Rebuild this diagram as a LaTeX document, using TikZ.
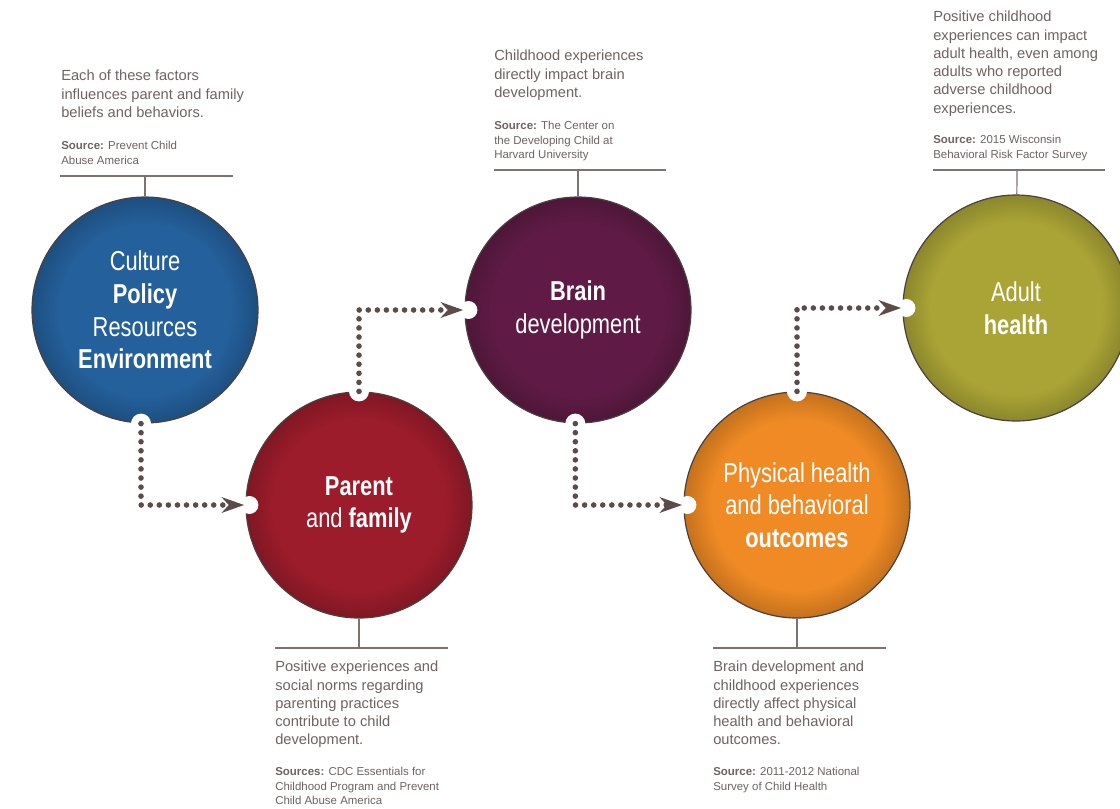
\documentclass[tikz,border=0pt]{standalone}
\usepackage{fontspec}
\setmainfont{Liberation Sans}
\newfontfamily\condfont[FakeStretch=0.8]{Liberation Sans}
\usetikzlibrary{arrows.meta}

\definecolor{cultblue}{HTML}{24609B}
\definecolor{parentred}{HTML}{9C1C2B}
\definecolor{brainplum}{HTML}{5F1B45}
\definecolor{healthorange}{HTML}{EF8A24}
\definecolor{adultolive}{HTML}{AAA436}
\definecolor{rimgrey}{HTML}{4A4040}
\definecolor{dotbrown}{HTML}{5B4C4A}
\definecolor{notegrey}{HTML}{6E6462}
\definecolor{leadgrey}{HTML}{7D7270}

\colorlet{ballc}{cultblue}
\pgfdeclareradialshading[ballc]{ball}{\pgfpoint{0bp}{0bp}}{color(0bp)=(ballc);color(19bp)=(ballc);color(25bp)=(ballc!82!black);color(50bp)=(ballc!82!black)}

\tikzset{
	ballcol/.code={\colorlet{ballc}{#1}},
	ball/.style={circle, minimum size=169.5pt, inner sep=0pt, draw=rimgrey, line width=0.9pt, ballcol=#1, shade, shading=ball, text=white, align=center, font=\condfont\fontsize{20.5}{24.5}\selectfont},
	notch/.style={fill=white},
	dotline/.style={draw=dotbrown, line width=4.2pt, line cap=round, dash pattern=on 0pt off 6.8pt, -{Stealth[length=17pt,width=12pt,line width=0pt]}},
	lead/.style={draw=leadgrey, line width=0.9pt},
	note/.style={anchor=north west, inner sep=0pt, align=left, text=notegrey, font=\fontsize{11}{13.7}\selectfont},
	src/.style={note, font=\fontsize{8.6}{11}\selectfont}
}

\begin{document}
\begin{tikzpicture}[x=0.75pt,y=0.75pt,yscale=-1,xscale=1]
	\fill[white] (0,0) rectangle (1120,808);
	\useasboundingbox (0,0) rectangle (1120,808);

	\node[ball=cultblue] (cult) at (145,310) {Culture\\\textbf{Policy}\\Resources\\\textbf{Environment}};
	\node[ball=parentred] (parent) at (359,505) {\textbf{Parent}\\and \textbf{family}};
	\node[ball=brainplum] (brain) at (578,310) {\textbf{Brain}\\development};
	\node[ball=healthorange] (health) at (797,505) {Physical health\\and behavioral\\\textbf{outcomes}};
	\node[ball=adultolive] (adult) at (1016,308) {Adult\\\textbf{health}};

	\fill[notch] ([xshift=-3pt]cult.south) circle (10);
	\fill[notch] ([xshift=3pt]parent.west) circle (9);
	\fill[notch] (parent.north) circle (10);
	\fill[notch] ([xshift=3pt]brain.west) circle (9);
	\fill[notch] ([xshift=-2pt]brain.south) circle (10);
	\fill[notch] ([xshift=3pt]health.west) circle (9);
	\fill[notch] (health.north) circle (10);
	\fill[notch] ([xshift=3pt]adult.west) circle (9);

	\draw[dotline] ([xshift=-3pt]cult.south) |- ([xshift=-1pt]parent.west);
	\draw[dotline] (parent.north) |- ([xshift=-1pt]brain.west);
	\draw[dotline] ([xshift=-2pt]brain.south) |- ([xshift=-1pt]health.west);
	\draw[dotline] (health.north) |- ([xshift=-1pt]adult.west);

	\coordinate (cultbar) at (145,176);
	\coordinate (brainbar) at (578,170);
	\coordinate (adultbar) at (1017,170);
	\coordinate (parentbar) at (359,648);
	\coordinate (healthbar) at (797,648);
	\draw[lead] (60,176) -- (233,176);
	\draw[lead] (494,170) -- (666,170);
	\draw[lead] (933,170) -- (1105,170);
	\draw[lead] (275,648) -- (448,648);
	\draw[lead] (713,648) -- (886,648);
	\draw[lead] (cultbar) -- (cult);
	\draw[lead] (brainbar) -- (brain);
	\draw[lead] (adultbar) -- (adult);
	\draw[lead] (parentbar) -- (parent);
	\draw[lead] (healthbar) -- (health);

	\node[note] (cultnote) at (61,70) {Each of these factors\\influences parent and family\\beliefs and behaviors.};
	\node[src] (cultsrc) at (61,141) {\textbf{Source:} Prevent Child\\Abuse America};
	\node[note] (brainnote) at (494,50) {Childhood experiences\\directly impact brain\\development.};
	\node[src] (brainsrc) at (494,121) {\textbf{Source:} The Center on\\the Developing Child at\\Harvard University};
	\node[note] (adultnote) at (933,11) {Positive childhood\\experiences can impact\\adult health, even among\\adults who reported\\adverse childhood\\experiences.};
	\node[src] (adultsrc) at (933,135) {\textbf{Source:} 2015 Wisconsin\\Behavioral Risk Factor Survey};
	\node[note] (parentnote) at (275,661) {Positive experiences and\\social norms regarding\\parenting practices\\contribute to child\\development.};
	\node[src] (parentsrc) at (275,767) {\textbf{Sources:} CDC Essentials for\\Childhood Program and Prevent\\Child Abuse America};
	\node[note] (healthnote) at (713,661) {Brain development and\\childhood experiences\\directly affect physical\\health and behavioral\\outcomes.};
	\node[src] (healthsrc) at (713,767) {\textbf{Source:} 2011-2012 National\\Survey of Child Health};
\end{tikzpicture}
\end{document}
